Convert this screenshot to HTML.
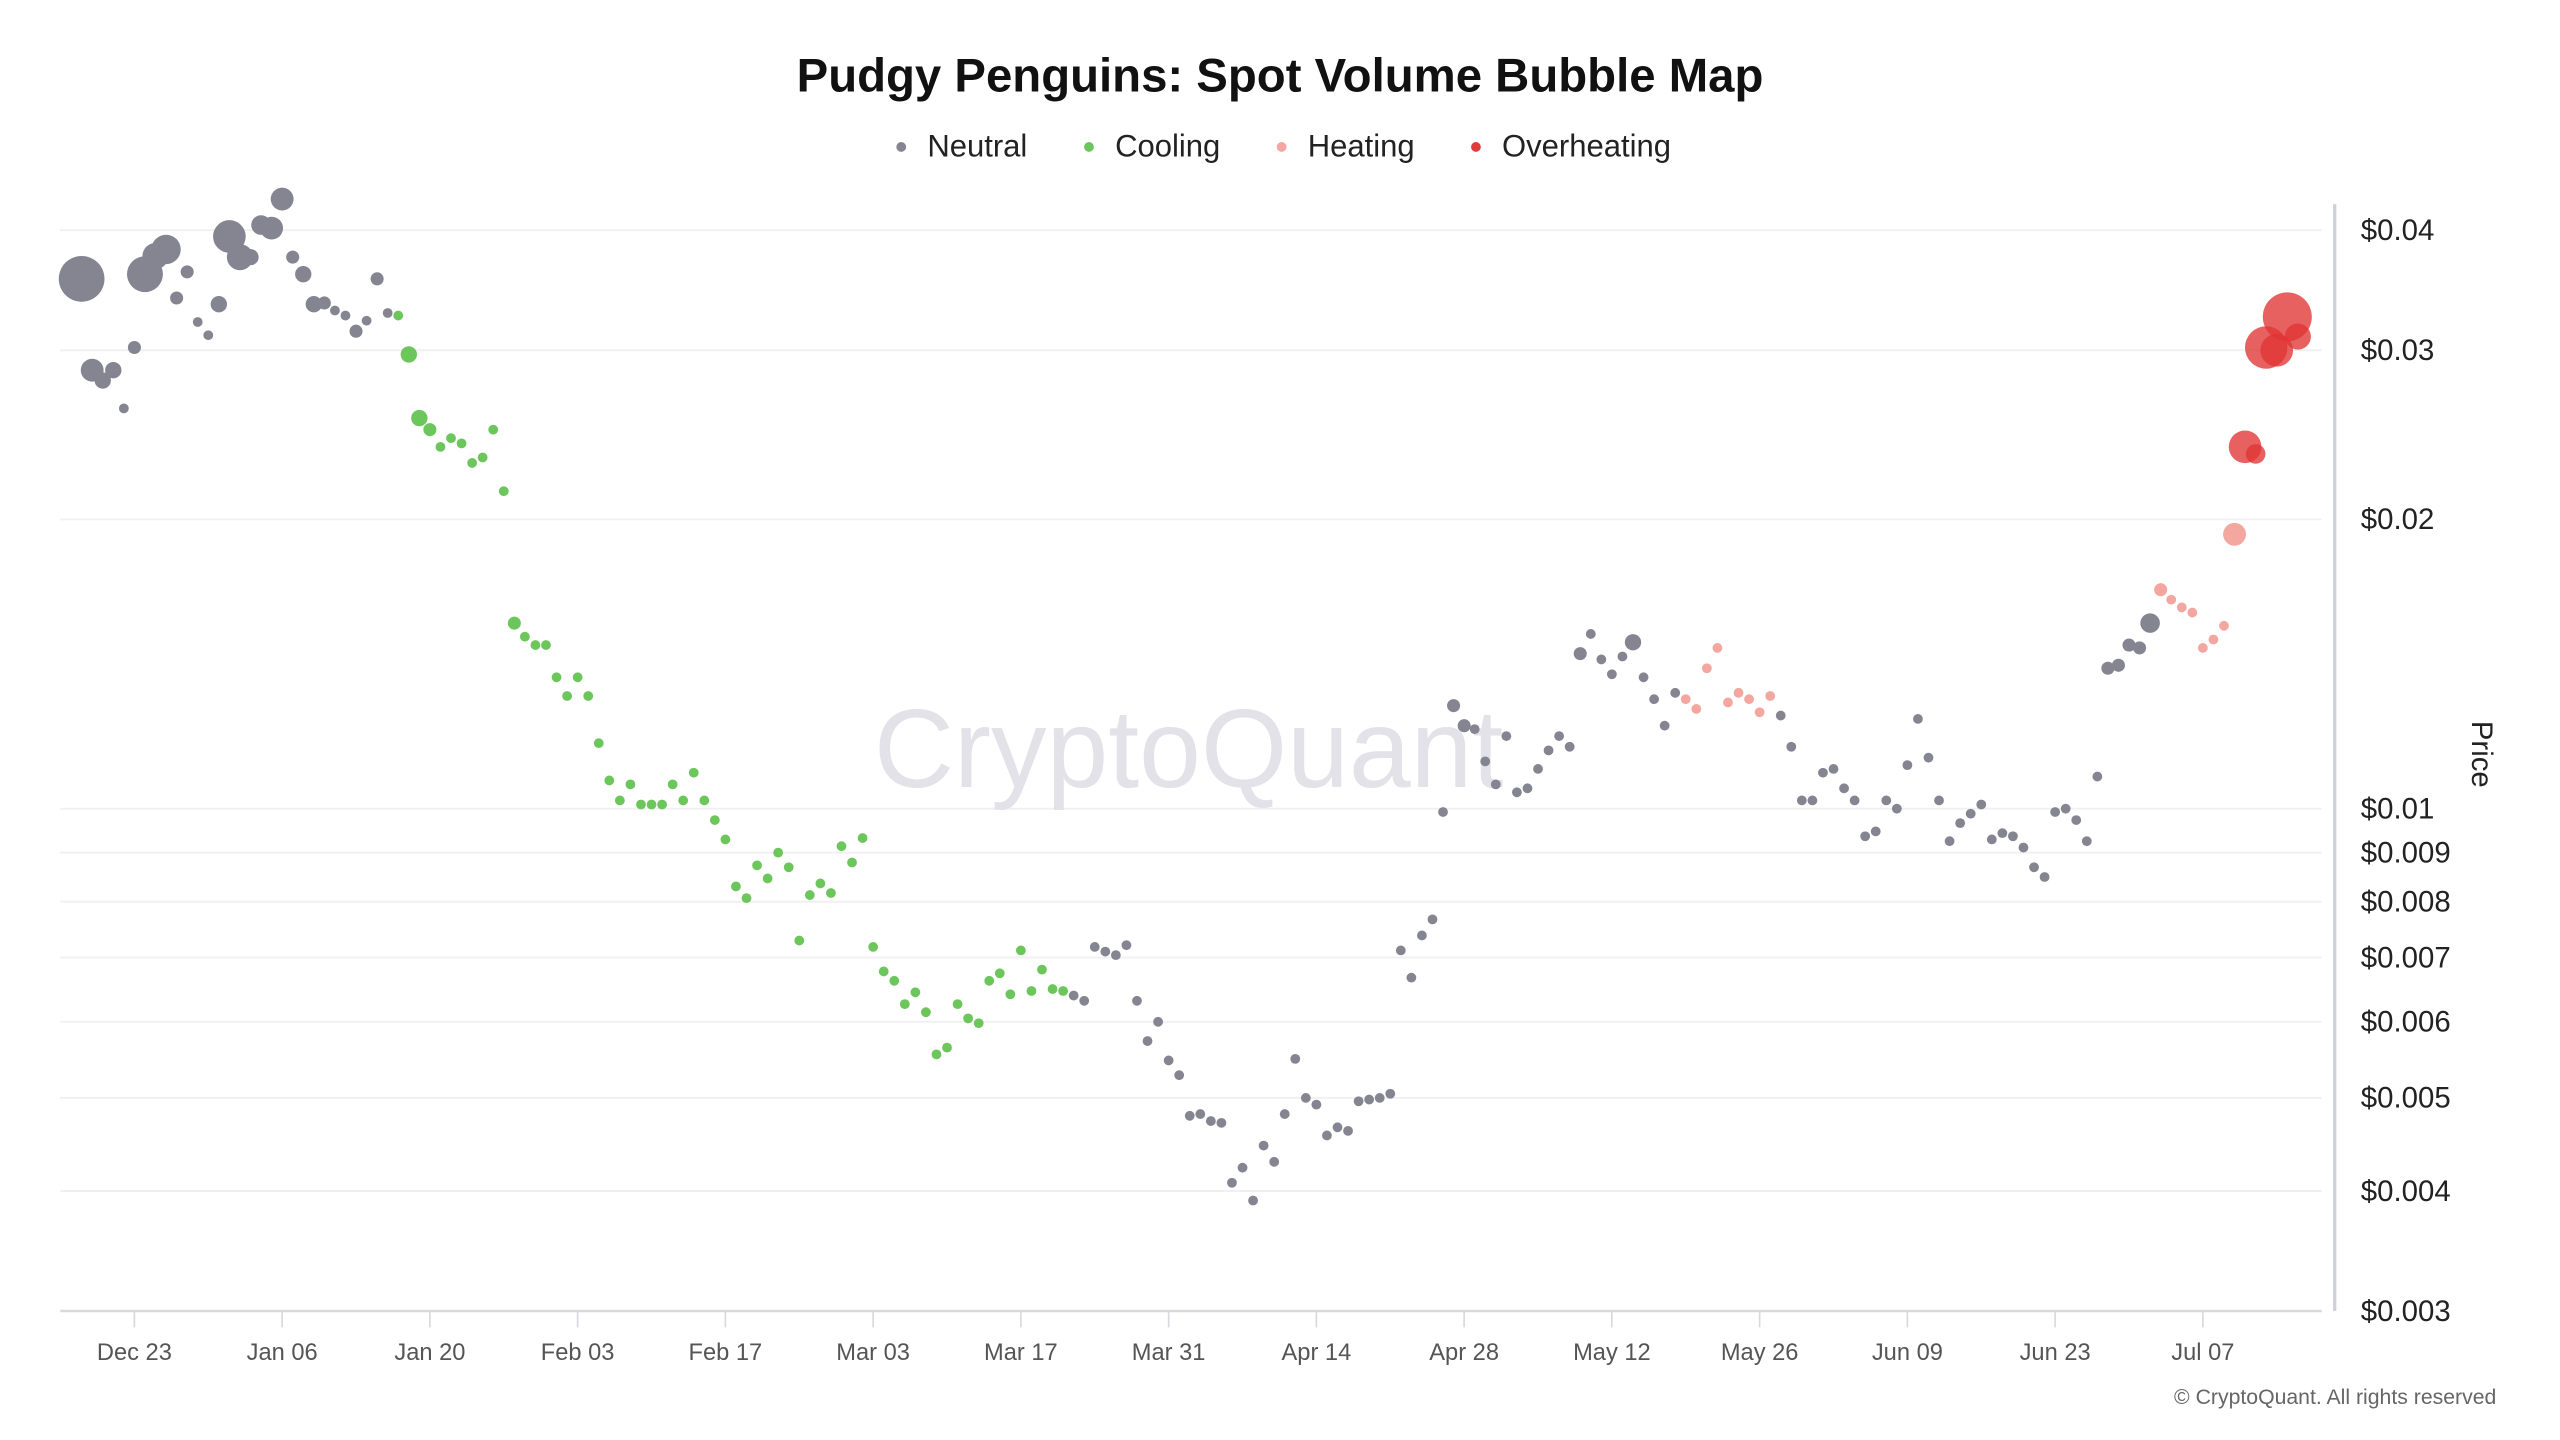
<!DOCTYPE html>
<html><head><meta charset="utf-8"><title>Pudgy Penguins: Spot Volume Bubble Map</title>
<style>html,body{margin:0;padding:0;background:#fff;}svg{display:block;}</style></head>
<body>
<svg id="chart" width="2560" height="1440" viewBox="0 0 1568 882" preserveAspectRatio="none" xmlns="http://www.w3.org/2000/svg" font-family="'Liberation Sans', sans-serif">
<rect width="1568" height="882" fill="#fff"/>
<text x="784" y="56" text-anchor="middle" font-size="29" font-weight="bold" fill="#111">Pudgy Penguins: Spot Volume Bubble Map</text>
<g font-size="19" fill="#222">
 <g><circle cx="552" cy="90" r="3" fill="#858592"/><text x="568" y="96">Neutral</text></g>
 <g><circle cx="667" cy="90" r="3" fill="#6cc65c"/><text x="683" y="96">Cooling</text></g>
 <g><circle cx="785" cy="90" r="3" fill="#f4a6a0"/><text x="801" y="96">Heating</text></g>
 <g><circle cx="904" cy="90" r="3" fill="#e03c3c"/><text x="920" y="96">Overheating</text></g>
</g>
<g id="grid"></g>
<text x="728" y="482" text-anchor="middle" font-size="68" fill="#e2e2e8">CryptoQuant</text>
<line x1="1430" y1="125" x2="1430" y2="803" stroke="#d0d0d8" stroke-width="2"/>
<line x1="37" y1="803" x2="1422" y2="803" stroke="#d8d8de" stroke-width="1.5"/>
<g id="yticks" font-size="18" fill="#222"></g>
<g id="xticks" font-size="14.5" fill="#555"></g>
<text transform="translate(1514,462) rotate(90)" text-anchor="middle" font-size="18" fill="#222">Price</text>
<g id="points"></g>
<text x="1529" y="860" text-anchor="end" font-size="13" fill="#666">© CryptoQuant. All rights reserved</text>
</svg>
<script>
const startDate = "Dec 18";
const prices = [
0.0356,0.0286,0.0279,0.0286,0.0261,0.0302,0.0360,0.0376,0.0382,0.0340,0.0362,0.0321,0.0311,0.0335,0.0394,0.0375,0.0375,0.0405,0.0402,0.0431,0.0375,0.0360,0.0335,0.0336,0.0330,0.0326,0.0314,0.0322,0.0356,0.0328,
0.0326,0.0297,0.0255,0.0248,0.0238,0.0243,0.0240,0.0229,0.0232,0.0248,0.0214,0.0156,0.0151,0.0148,0.0148,0.0137,0.0131,0.0137,0.0131,0.0117,0.0107,0.0102,0.0106,0.0101,0.0101,0.0101,0.0106,0.0102,0.0109,0.0102,0.00973,0.00929,0.00830,0.00807,0.00873,0.00846,0.00900,0.00869,0.00729,0.00813,0.00836,0.00817,0.00914,0.00879,0.00932,0.00718,0.00677,0.00662,0.00626,0.00644,0.00614,0.00555,0.00564,0.00626,0.00605,0.00598,0.00662,0.00674,0.00641,0.00712,0.00646,0.00680,0.00649,0.00646,
0.00639,0.00631,0.00718,0.00710,0.00704,0.00721,0.00631,0.00573,0.00600,0.00547,0.00528,0.00479,0.00481,0.00473,0.00471,0.00408,0.00423,0.00391,0.00446,0.00429,0.00481,0.00549,0.00500,0.00492,0.00457,0.00466,0.00462,0.00496,0.00498,0.00500,0.00505,0.00712,0.00667,0.00738,0.00767,0.00992,0.0128,0.0122,0.0121,0.0112,0.0106,0.0119,0.0104,0.0105,0.0110,0.0115,0.0119,0.0116,0.0145,0.0152,0.0143,0.0138,0.0144,0.0149,0.0137,0.0130,0.0122,0.0132,
0.0130,0.0127,0.0140,0.0147,0.0129,0.0132,0.0130,0.0126,0.0131,
0.0125,0.0116,0.0102,0.0102,0.0109,0.0110,0.0105,0.0102,0.00936,0.00947,0.0102,0.0100,0.0111,0.0124,0.0113,0.0102,0.00925,0.00966,0.00988,0.0101,0.00929,0.00943,0.00936,0.00911,0.00869,0.00849,0.00992,0.0100,0.00973,0.00925,0.0108,0.0140,0.0141,0.0148,0.0147,0.0156,
0.0169,0.0165,0.0162,0.0160,0.0147,0.0150,0.0155,0.0193,
0.0238,0.0234,0.0302,0.0300,0.0325,0.0310
];
const volumes = [
196,49,25,25,9,16,121,64,81,16,16,9,9,25,100,64,25,36,49,49,16,25,25,16,9,9,16,9,16,9,
9,25,25,16,9,9,9,9,9,9,9,16,9,9,9,9,9,9,9,9,9,9,9,9,9,9,9,9,9,9,9,9,9,9,9,9,9,9,9,9,9,9,9,9,9,9,9,9,9,9,9,9,9,9,9,9,9,9,9,9,9,9,9,9,
9,9,9,9,9,9,9,9,9,9,9,9,9,9,9,9,9,9,9,9,9,9,9,9,9,9,9,9,9,9,9,9,9,9,9,9,16,16,9,9,9,9,9,9,9,9,9,9,16,9,9,9,9,25,9,9,9,9,
9,9,9,9,9,9,9,9,9,
9,9,9,9,9,9,9,9,9,9,9,9,9,9,9,9,9,9,9,9,9,9,9,9,9,9,9,9,9,9,9,16,16,16,16,36,
16,9,9,9,9,9,9,49,
100,36,169,100,225,64
];
const status = "NNNNNNNNNNNNNNNNNNNNNNNNNNNNNN" +
"CCCCCCCCCCCCCCCCCCCCCCCCCCCCCCCCCCCCCCCCCCCCCCCCCCCCCCCCCCCCCCCC" +
"NNNNNNNNNNNNNNNNNNNNNNNNNNNNNNNNNNNNNNNNNNNNNNNNNNNNNNNNNN" +
"HHHHHHHHH" +
"NNNNNNNNNNNNNNNNNNNNNNNNNNNNNNNNNNNN" +
"HHHHHHHH" +
"OOOOOO";
const xTickLabels = ["Dec 23","Jan 06","Jan 20","Feb 03","Feb 17","Mar 03","Mar 17","Mar 31","Apr 14","Apr 28","May 12","May 26","Jun 09","Jun 23","Jul 07"];
const xTickDays = [5,19,33,47,61,75,89,103,117,131,145,159,173,187,201];
const yTickValues = [0.04,0.03,0.02,0.01,0.009,0.008,0.007,0.006,0.005,0.004,0.003];
const yTickLabels = ["$0.04","$0.03","$0.02","$0.01","$0.009","$0.008","$0.007","$0.006","$0.005","$0.004","$0.003"];

const NS = "http://www.w3.org/2000/svg";
function xScale(day){ return 50 + day * 6.464; }
function yScale(p){ return 141 + 588.5 * (Math.log10(0.04) - Math.log10(p)); }
function rScale(v){ return Math.sqrt(v); }
const colors = {N:"#858592", C:"#6cc65c", H:"#f4a6a0", O:"rgba(224,52,52,0.78)"};
const names = {N:"neutral", C:"cooling", H:"heating", O:"overheating"};

const grid = document.getElementById('grid');
const yt = document.getElementById('yticks');
yTickValues.forEach((v,i)=>{
  const y = yScale(v);
  const l = document.createElementNS(NS,'line');
  
  
  l.setAttribute('x1',37); l.setAttribute('x2',1422);
  l.setAttribute('y1',y); l.setAttribute('y2',y);
  l.setAttribute('stroke','#f0f0f2'); l.setAttribute('stroke-width','1.2');
  grid.appendChild(l);
  const t = document.createElementNS(NS,'text');
  
  
  t.setAttribute('x',1446); t.setAttribute('y',y+6);
  t.textContent = yTickLabels[i];
  yt.appendChild(t);
});
const xt = document.getElementById('xticks');
xTickDays.forEach((d,i)=>{
  const x = xScale(d);
  const l = document.createElementNS(NS,'line');
  
  
  l.setAttribute('x1',x); l.setAttribute('x2',x);
  l.setAttribute('y1',803); l.setAttribute('y2',813);
  l.setAttribute('stroke','#d8d8de');
  xt.appendChild(l);
  const t = document.createElementNS(NS,'text');
  
  
  t.setAttribute('x',x); t.setAttribute('y',833);
  t.setAttribute('text-anchor','middle');
  t.textContent = xTickLabels[i];
  xt.appendChild(t);
});
const pts = document.getElementById('points');
prices.forEach((p,i)=>{
  const s = status[i] || 'N';
  const c = document.createElementNS(NS,'circle');
  
  
  c.setAttribute('cx', xScale(i));
  c.setAttribute('cy', yScale(p));
  c.setAttribute('r', rScale(volumes[i] || 9));
  c.setAttribute('fill', colors[s]);
  pts.appendChild(c);
});
</script>
</body></html>
